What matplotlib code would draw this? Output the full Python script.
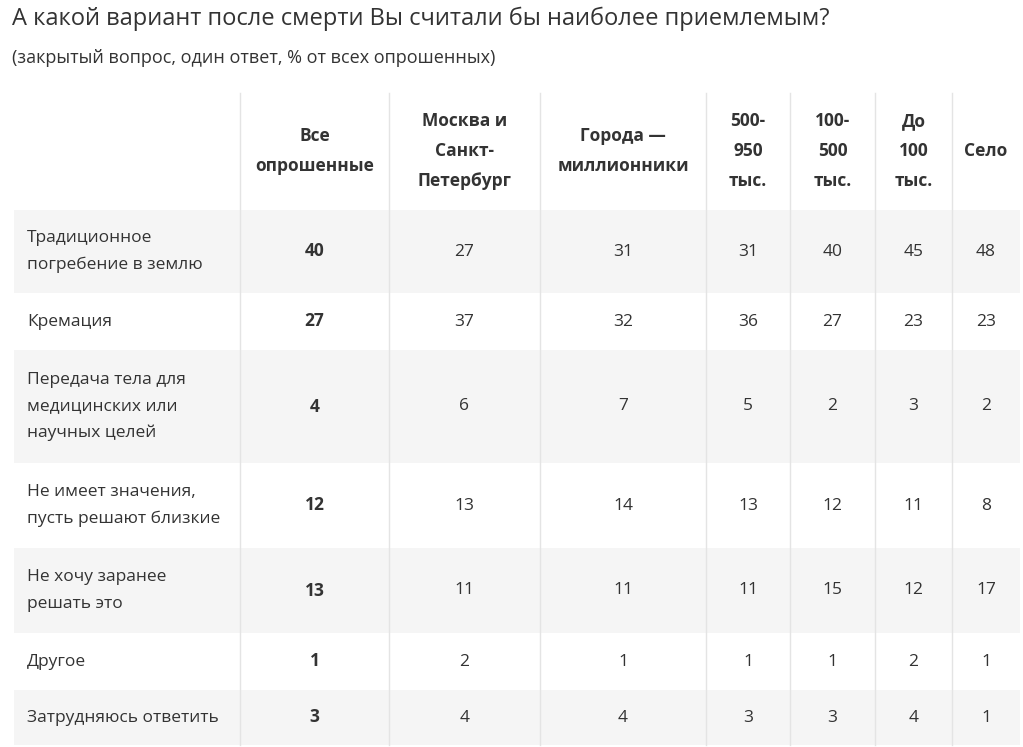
import matplotlib
matplotlib.use("Agg")
import matplotlib.pyplot as plt
from matplotlib.patches import Rectangle

plt.rcParams["font.family"] = ["Open Sans", "DejaVu Sans"]

title = "А какой вариант после смерти Вы считали бы наиболее приемлемым?"
subtitle = "(закрытый вопрос, один ответ, % от всех опрошенных)"
columns = ["Все\nопрошенные", "Москва и\nСанкт-\nПетербург", "Города —\nмиллионники",
           "500-\n950\nтыс.", "100-\n500\nтыс.", "До\n100\nтыс.", "Село"]
rows = ["Традиционное\nпогребение в землю", "Кремация",
        "Передача тела для\nмедицинских или\nнаучных целей",
        "Не имеет значения,\nпусть решают близкие", "Не хочу заранее\nрешать это",
        "Другое", "Затрудняюсь ответить"]
values = [
    [40, 27, 31, 31, 40, 45, 48],
    [27, 37, 32, 36, 27, 23, 23],
    [4, 6, 7, 5, 2, 3, 2],
    [12, 13, 14, 13, 12, 11, 8],
    [13, 11, 11, 11, 15, 12, 17],
    [1, 2, 1, 1, 1, 2, 1],
    [3, 4, 4, 3, 3, 4, 1],
]

W, H = 1023, 747
fig = plt.figure(figsize=(W / 100, H / 100), dpi=100)
ax = fig.add_axes([0, 0, 1, 1])
ax.set_xlim(0, W); ax.set_ylim(H, 0); ax.axis("off")
txt = "#333333"

ax.text(12, 19, title, fontsize=17, color=txt, va="center", ha="left")
ax.text(12, 58, subtitle, fontsize=13, color=txt, va="center", ha="left")

left, right = 14, 1020
row_edges = [210, 293, 350, 463, 548, 633, 690, 745]
col_edges = [240, 389, 540, 706, 790, 875, 952, right]
for i in range(len(rows)):
    if i % 2 == 0:
        ax.add_patch(Rectangle((left, row_edges[i]), right - left,
                               row_edges[i + 1] - row_edges[i], color="#f5f5f5", lw=0, zorder=0))
for x in col_edges[:-1]:
    ax.plot([x, x], [93, 745], color="#e4e4e4", lw=1, zorder=1)

for j, c in enumerate(columns):
    cx = (col_edges[j] + col_edges[j + 1]) / 2
    ax.text(cx, 151, c, fontsize=12.5, fontweight="bold", color=txt,
            ha="center", va="center", linespacing=1.85)

for i, r in enumerate(rows):
    cy = (row_edges[i] + row_edges[i + 1]) / 2
    ax.text(27, cy, r, fontsize=12.5, color=txt, ha="left", va="center", linespacing=1.85)
    for j, v in enumerate(values[i]):
        cx = (col_edges[j] + col_edges[j + 1]) / 2
        ax.text(cx, cy, str(v), fontsize=12.5, color=txt, ha="center", va="center",
                fontweight="bold" if j == 0 else "normal")

fig.savefig("out.png", dpi=100)
